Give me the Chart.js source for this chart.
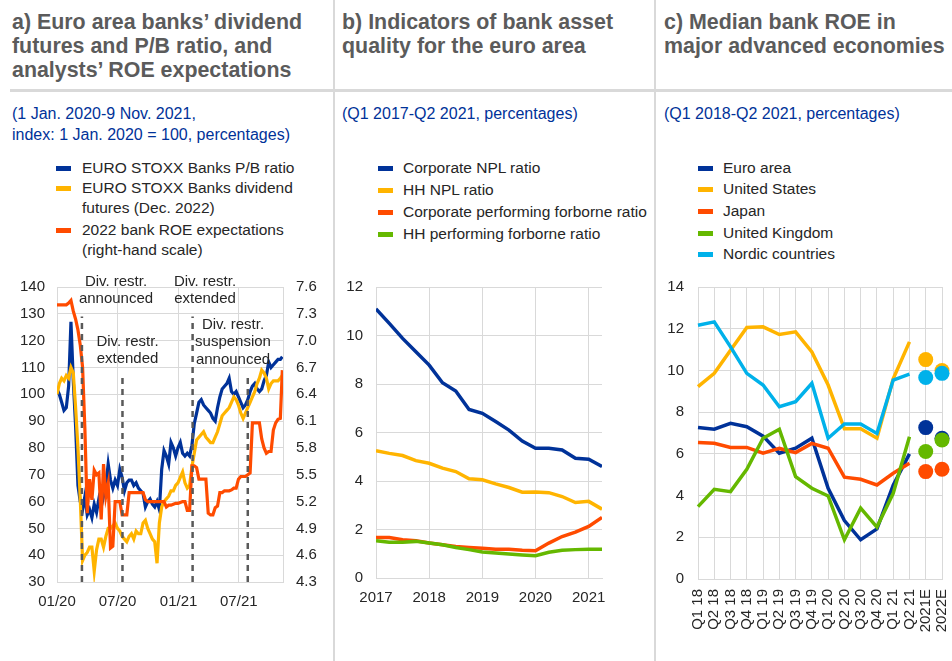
<!DOCTYPE html>
<html>
<head>
<meta charset="utf-8">
<script src="https://cdn.jsdelivr.net/npm/chart.js@4.4.0/dist/chart.umd.min.js"></script>
<style>
body { margin: 0; width: 952px; height: 661px; position: relative; background: #fff; overflow: hidden;
  font-family: 'Liberation Sans', Arial, sans-serif; }
.t { position: absolute; top: 10px; font-weight: bold; font-size: 21.4px; line-height: 24px; color: #5b5b5b; white-space: nowrap; }
.s { position: absolute; top: 103px; font-size: 16px; line-height: 21px; color: #003299; white-space: nowrap; }
.li { position: absolute; font-size: 15.5px; line-height: 19.5px; color: #262626; white-space: nowrap; }
.li i { position: absolute; top: 7.5px; width: 15px; height: 5px; }
.sep { position: absolute; background: #d9d9d9; }
canvas { position: absolute; }
</style>
</head>
<body>
<div class="sep" style="left:10px;top:89px;width:942px;height:3px"></div>
<div class="sep" style="left:333px;top:0;width:2px;height:661px"></div>
<div class="sep" style="left:654px;top:0;width:2px;height:661px"></div>

<div class="t" style="left:12px">a) Euro area banks’ dividend<br>futures and P/B ratio, and<br>analysts’ ROE expectations</div>
<div class="t" style="left:342px">b) Indicators of bank asset<br>quality for the euro area</div>
<div class="t" style="left:664px">c) Median bank ROE in<br>major advanced economies</div>

<div class="s" style="left:12px">(1 Jan. 2020-9 Nov. 2021,<br>index: 1 Jan. 2020 = 100, percentages)</div>
<div class="s" style="left:342px">(Q1 2017-Q2 2021, percentages)</div>
<div class="s" style="left:664px">(Q1 2018-Q2 2021, percentages)</div>

<div class="li" style="left:82px;top:158px"><i style="left:-26px;background:#003299"></i>EURO STOXX Banks P/B ratio</div>
<div class="li" style="left:82px;top:178px"><i style="left:-26px;background:#ffb400"></i>EURO STOXX Banks dividend<br>futures (Dec. 2022)</div>
<div class="li" style="left:82px;top:220px"><i style="left:-26px;background:#ff4b00"></i>2022 bank ROE expectations<br>(right-hand scale)</div>

<div class="li" style="left:403px;top:158px"><i style="left:-25px;background:#003299"></i>Corporate NPL ratio</div>
<div class="li" style="left:403px;top:180px"><i style="left:-25px;background:#ffb400"></i>HH NPL ratio</div>
<div class="li" style="left:403px;top:202px"><i style="left:-25px;background:#ff4b00"></i>Corporate performing forborne ratio</div>
<div class="li" style="left:403px;top:224px"><i style="left:-25px;background:#65b800"></i>HH performing forborne ratio</div>

<div class="li" style="left:723px;top:158px"><i style="left:-25px;background:#003299"></i>Euro area</div>
<div class="li" style="left:723px;top:179px"><i style="left:-25px;background:#ffb400"></i>United States</div>
<div class="li" style="left:723px;top:201px"><i style="left:-25px;background:#ff4b00"></i>Japan</div>
<div class="li" style="left:723px;top:223px"><i style="left:-25px;background:#65b800"></i>United Kingdom</div>
<div class="li" style="left:723px;top:244px"><i style="left:-25px;background:#00b1ea"></i>Nordic countries</div>

<canvas id="chartA" width="334" height="370" style="left:0;top:270px"></canvas>
<canvas id="chartB" width="321" height="370" style="left:334px;top:270px"></canvas>
<canvas id="chartC" width="297" height="391" style="left:655px;top:270px"></canvas>

<script>
// ---- panel a: weekly readings, days counted from 1 Jan. 2020 ----
const dayTicks = [0, 182, 366, 547];
const dayTickLabels = ['01/20', '07/20', '01/21', '07/21'];
const days = Array.from({length: 97}, (_, i) => i * 7).concat([678]);
const pbRatio = [
  102, 100, 97, 94, 95, 103, 127, 105, 88, 66,
  60, 57, 62, 55, 57, 54, 59, 56, 61, 58,
  62, 66, 74, 68, 65, 68, 66, 72, 69, 64,
  67, 68, 68, 66, 67, 65, 64, 63, 58, 60,
  61, 59, 58, 60, 57, 72, 79, 77, 74, 82,
  80, 77, 80, 82, 78, 77, 78, 77, 81, 89,
  93, 97, 98, 96, 95, 94, 93, 91, 90, 95,
  99, 102, 103, 104, 106, 101, 100, 101, 99, 97,
  95, 96, 98, 101, 103, 104, 102, 101, 102, 105,
  107, 112, 110, 111, 112, 113, 113, 114
];
const dividendFutures = [
  100, 104, 106, 105, 107, 106, 110, 108, 95, 80,
  61, 38, 40, 41, 43, 43, 34, 42, 46, 46,
  43, 47, 50, 50, 51, 52, 50, 49, 47, 46,
  45, 47, 48, 46, 49, 48, 48, 52, 53, 50,
  48, 46, 45, 37, 52, 58, 60, 61, 62, 64,
  64, 66, 67, 69, 71, 67, 65, 66, 73, 78,
  83, 84, 85, 86, 84, 83, 82, 82, 84, 86,
  89, 92, 93, 94, 95, 97, 99, 98, 96, 93,
  91, 93, 95, 97, 99, 101, 104, 106, 109, 108,
  106, 102, 104, 105, 105, 105, 106, 107
];
const roeExpectations = [
  7.4, 7.4, 7.4, 7.4, 7.4, 7.42, 7.45, 7.33, 7.24, 7.12,
  6.95, 6.7, 6.0, 5.07, 5.45, 5.22, 5.55, 5.5, 5.52, 5.0,
  5.62, 5.26, 5.4, 4.68, 4.7, 5.2, 5.2, 5.2, 5.05, 5.05,
  5.05, 5.3, 5.3, 5.3, 5.3, 5.3, 5.3, 5.3, 5.22, 5.2,
  5.2, 5.2, 5.2, 5.2, 5.2, 5.2, 5.2, 5.14, 5.16, 5.16,
  5.17, 5.18, 5.18, 5.19, 5.2, 5.2, 5.1, 5.1, 5.6, 5.6,
  5.58, 5.45, 5.45, 5.45, 5.45, 5.07, 5.05, 5.05, 5.13, 5.15,
  5.3, 5.3, 5.32, 5.32, 5.32, 5.33, 5.35, 5.35, 5.45, 5.48,
  5.48, 5.48, 5.5, 5.52, 6.08, 6.08, 6.08, 6.08, 5.9, 5.8,
  5.74, 5.76, 5.76, 6.0, 6.08, 6.12, 6.13, 6.67
];
const restrDays = [75, 197, 408, 574];
const restrTop = [129, 107, 129, 107];
const leftTicks = [30, 40, 50, 60, 70, 80, 90, 100, 110, 120, 130, 140];
const rightTicks = [4.3, 4.6, 4.9, 5.2, 5.5, 5.8, 6.1, 6.4, 6.7, 7.0, 7.3, 7.6];

// ---- panel b: quarterly, Q1 2017 - Q2 2021 ----
const yearTicks = [0, 4, 8, 12, 16];
const yearLabels = ['2017', '2018', '2019', '2020', '2021'];
const corporateNpl = [11.1, 10.5, 9.88, 9.33, 8.78, 8.05, 7.71, 6.95, 6.79, 6.45, 6.1, 5.65, 5.35, 5.35, 5.28, 4.94, 4.9, 4.6];
const hhNpl = [5.25, 5.14, 5.05, 4.84, 4.73, 4.53, 4.39, 4.09, 4.05, 3.88, 3.73, 3.54, 3.55, 3.52, 3.36, 3.11, 3.16, 2.84];
const corporateForborne = [1.67, 1.67, 1.58, 1.54, 1.44, 1.37, 1.3, 1.26, 1.23, 1.19, 1.19, 1.14, 1.12, 1.44, 1.71, 1.89, 2.13, 2.5];
const hhForborne = [1.54, 1.47, 1.47, 1.51, 1.44, 1.37, 1.26, 1.17, 1.07, 1.03, 0.99, 0.95, 0.92, 1.06, 1.14, 1.17, 1.19, 1.19];

// ---- panel c: quarterly Q1 18 - Q2 21, then estimates ----
const quarters = ['Q1 18', 'Q2 18', 'Q3 18', 'Q4 18', 'Q1 19', 'Q2 19', 'Q3 19', 'Q4 19',
  'Q1 20', 'Q2 20', 'Q3 20', 'Q4 20', 'Q1 21', 'Q2 21', '2021E', '2022E'];
const euroArea = [7.26, 7.18, 7.46, 7.3, 6.85, 6.03, 6.27, 6.75, 4.35, 2.8, 1.88, 2.4, 4.5, 6.0];
const euroAreaEst = [7.26, 6.75];
const unitedStates = [9.22, 9.86, 10.97, 12.06, 12.09, 11.72, 11.85, 10.89, 9.3, 7.2, 7.2, 6.75, 9.6, 11.37];
const unitedStatesEst = [10.52, 10.0];
const japan = [6.55, 6.51, 6.31, 6.31, 6.03, 6.26, 6.06, 6.5, 6.27, 4.88, 4.78, 4.51, 5.07, 5.55];
const japanEst = [5.15, 5.26];
const unitedKingdom = [3.47, 4.3, 4.19, 5.26, 6.75, 7.18, 4.91, 4.35, 3.98, 1.88, 3.4, 2.49, 4.11, 6.82];
const unitedKingdomEst = [6.11, 6.67];
const nordic = [12.17, 12.33, 11.13, 9.86, 9.3, 8.26, 8.5, 9.38, 6.75, 7.43, 7.43, 6.98, 9.54, 9.82];
const nordicEst = [9.66, 9.86];

const FONT = "'Liberation Sans', Arial, sans-serif";
Chart.defaults.font.family = FONT;
Chart.defaults.font.size = 15;
Chart.defaults.color = '#262626';

const GRID = '#d9d9d9';
const BLUE = '#003299', YELLOW = '#ffb400', RED = '#ff4b00', GREEN = '#65b800', CYAN = '#00b1ea';

function pts(xs, ys) {
  return ys.map((v, i) => ({x: xs[i], y: v}));
}
// keep the plot areas where the reference has them
function fixX(h) {
  return s => { s.height = h; s.paddingLeft = 0; s.paddingRight = 0; };
}
function fixY(w) {
  return s => { s.width = w; s.paddingTop = 0; s.paddingBottom = 0; };
}

const restrLabels = {
  id: 'restrLabels',
  afterDatasetsDraw(chart) {
    const ctx = chart.ctx;
    const boxes = [
      {x: 116, y: 11.7, lines: ['Div. restr.', 'announced']},
      {x: 127.5, y: 71.7, lines: ['Div. restr.', 'extended']},
      {x: 205, y: 11.7, lines: ['Div. restr.', 'extended']},
      {x: 233, y: 55, lines: ['Div. restr.', 'suspension', 'announced']}
    ];
    ctx.save();
    ctx.font = '15px ' + FONT;
    ctx.fillStyle = '#262626';
    ctx.textAlign = 'center';
    ctx.textBaseline = 'middle';
    boxes.forEach(b => b.lines.forEach((t, i) => ctx.fillText(t, b.x, b.y + i * 17.3)));
    ctx.restore();
  }
};

new Chart(document.getElementById('chartA'), {
  type: 'line',
  data: {
    datasets: [
      ...restrDays.map((d, i) => ({
        data: [{x: d, y: 30}, {x: d, y: restrTop[i]}],
        borderColor: '#595959', borderWidth: 2.5, borderDash: [6, 5], yAxisID: 'y', order: 0
      })),
      {label: '2022 bank ROE expectations', data: pts(days, roeExpectations), borderColor: RED, yAxisID: 'y2', order: 1},
      {label: 'EURO STOXX Banks dividend futures', data: pts(days, dividendFutures), borderColor: YELLOW, yAxisID: 'y', order: 2},
      {label: 'EURO STOXX Banks P/B ratio', data: pts(days, pbRatio), borderColor: BLUE, yAxisID: 'y', order: 3}
    ]
  },
  options: {
    responsive: false, animation: false,
    layout: {padding: {top: 17, left: 0, right: 0, bottom: 0}},
    elements: {line: {borderWidth: 3.2, tension: 0}, point: {radius: 0}},
    plugins: {legend: {display: false}, tooltip: {enabled: false}},
    scales: {
      x: {
        type: 'linear', min: 0, max: 680,
        grid: {color: GRID, drawTicks: false}, border: {color: GRID},
        afterBuildTicks: s => { s.ticks = dayTicks.map(v => ({value: v})); },
        ticks: {padding: 11, maxRotation: 0, callback: v => dayTickLabels[dayTicks.indexOf(v)]},
        afterFit: fixX(58)
      },
      y: {
        min: 30, max: 140,
        grid: {color: GRID, drawTicks: false}, border: {color: GRID},
        afterBuildTicks: s => { s.ticks = leftTicks.map(v => ({value: v})); },
        ticks: {padding: 12},
        afterFit: fixY(57)
      },
      y2: {
        position: 'right', min: 4.3, max: 7.6,
        grid: {drawOnChartArea: false, drawTicks: false}, border: {color: GRID},
        afterBuildTicks: s => { s.ticks = rightTicks.map(v => ({value: v})); },
        ticks: {padding: 13, callback: v => v.toFixed(1)},
        afterFit: fixY(51)
      }
    }
  },
  plugins: [restrLabels]
});

new Chart(document.getElementById('chartB'), {
  type: 'line',
  data: {
    datasets: [
      {label: 'HH performing forborne ratio', data: hhForborne.map((v, i) => ({x: i, y: v})), borderColor: GREEN, order: 0},
      {label: 'Corporate performing forborne ratio', data: corporateForborne.map((v, i) => ({x: i, y: v})), borderColor: RED, order: 1},
      {label: 'HH NPL ratio', data: hhNpl.map((v, i) => ({x: i, y: v})), borderColor: YELLOW, order: 2},
      {label: 'Corporate NPL ratio', data: corporateNpl.map((v, i) => ({x: i, y: v})), borderColor: BLUE, order: 3}
    ]
  },
  options: {
    responsive: false, animation: false,
    layout: {padding: {top: 17, left: 0, right: 53, bottom: 0}},
    elements: {line: {borderWidth: 3.5, tension: 0}, point: {radius: 0}},
    plugins: {legend: {display: false}, tooltip: {enabled: false}},
    scales: {
      x: {
        type: 'linear', min: 0, max: 17,
        grid: {color: GRID, drawTicks: false}, border: {color: GRID},
        afterBuildTicks: s => { s.ticks = yearTicks.map(v => ({value: v})); },
        ticks: {padding: 11, maxRotation: 0, callback: v => yearLabels[yearTicks.indexOf(v)]},
        afterFit: fixX(62)
      },
      y: {
        min: 0, max: 12,
        grid: {color: GRID, drawTicks: false}, border: {color: GRID},
        ticks: {stepSize: 2, padding: 13},
        afterFit: fixY(42)
      }
    }
  }
});

const lineOnly = arr => arr.concat([null, null]);
const estOnly = arr => Array(14).fill(null).concat(arr);
const countries = [
  {name: 'Nordic countries', line: nordic, est: nordicEst, color: CYAN},
  {name: 'United Kingdom', line: unitedKingdom, est: unitedKingdomEst, color: GREEN},
  {name: 'Japan', line: japan, est: japanEst, color: RED},
  {name: 'United States', line: unitedStates, est: unitedStatesEst, color: YELLOW},
  {name: 'Euro area', line: euroArea, est: euroAreaEst, color: BLUE}
];
const dsC = [];
countries.forEach((c, i) => {
  dsC.push({label: c.name, data: lineOnly(c.line), borderColor: c.color, order: i});
  dsC.push({label: c.name + ' (est.)', data: estOnly(c.est), showLine: false, pointRadius: 7.5,
    pointBackgroundColor: c.color, pointBorderWidth: 0, borderColor: c.color, order: i, clip: false});
});

new Chart(document.getElementById('chartC'), {
  type: 'line',
  data: {labels: quarters, datasets: dsC},
  options: {
    responsive: false, animation: false,
    layout: {padding: {top: 17, left: 0, right: 10, bottom: 0}},
    elements: {line: {borderWidth: 3.5, tension: 0}, point: {radius: 0}},
    plugins: {legend: {display: false}, tooltip: {enabled: false}},
    scales: {
      x: {
        offset: false,
        grid: {color: GRID, drawTicks: false, offset: false}, border: {color: GRID},
        ticks: {padding: 10, autoSkip: false, minRotation: 90, maxRotation: 90},
        afterFit: fixX(82)
      },
      y: {
        min: 0, max: 14,
        grid: {color: GRID, drawTicks: false}, border: {color: GRID},
        ticks: {stepSize: 2, padding: 14},
        afterFit: fixY(43)
      }
    }
  }
});
</script>
</body>
</html>
